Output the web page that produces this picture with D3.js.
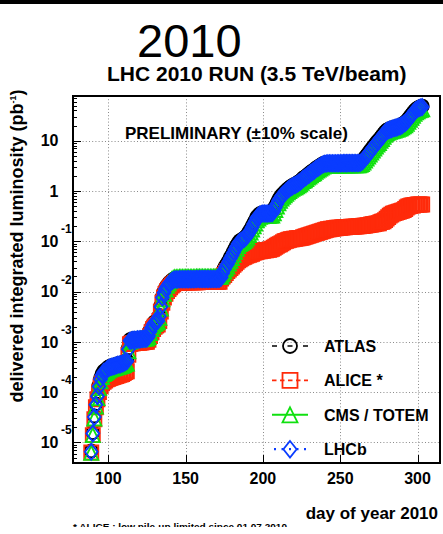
<!DOCTYPE html>
<html>
<head>
<meta charset="utf-8">
<script src="https://cdn.jsdelivr.net/npm/d3@7"></script>
<style>
  html, body { margin: 0; padding: 0; background: #fff; }
  svg { display: block; }
  text { font-family: "Liberation Sans", Arial, Helvetica, sans-serif; }
</style>
</head>
<body>
<svg id="chart" width="443" height="534"></svg>
<script>
// ---- data: delivered integrated luminosity (pb^-1), one value per day of year 2010 (89 .. 303) ----
const days = d3.range(89, 304);

const atlas = [
  6.8e-6, 1.57e-5, 3.35e-5, 5.85e-5, 8.7e-5, 1.36e-4, 1.88e-4, 2.3e-4, 2.6e-4, 2.72e-4,
  2.92e-4, 3.13e-4, 3.23e-4, 3.33e-4, 3.38e-4, 3.44e-4, 3.54e-4, 3.64e-4, 3.7e-4, 3.75e-4,
  3.85e-4, 3.96e-4, 4.17e-4, 4.27e-4, 7.5e-4, 1.1e-3, 1.12e-3, 1.15e-3, 1.15e-3, 1.15e-3,
  1.17e-3, 1.17e-3, 1.18e-3, 1.19e-3, 1.2e-3, 1.2e-3, 1.22e-3, 1.36e-3, 1.68e-3, 2.0e-3,
  2.3e-3, 2.5e-3, 2.6e-3, 2.72e-3, 3.35e-3, 5.2e-3, 7.9e-3, 9.9e-3, 1.17e-2, 1.31e-2,
  1.44e-2, 1.56e-2, 1.66e-2, 1.76e-2, 1.8e-2, 1.8e-2, 1.8e-2, 1.81e-2, 1.81e-2, 1.81e-2,
  1.81e-2, 1.81e-2, 1.82e-2, 1.82e-2, 1.82e-2, 1.82e-2, 1.82e-2, 1.82e-2, 1.83e-2, 1.83e-2,
  1.83e-2, 1.83e-2, 1.83e-2, 1.83e-2, 1.83e-2, 1.84e-2, 1.84e-2, 1.84e-2, 1.84e-2, 1.84e-2,
  1.84e-2, 1.84e-2, 1.84e-2, 1.85e-2, 1.97e-2, 2.4e-2, 2.86e-2, 3.29e-2, 3.64e-2, 4.16e-2,
  4.8e-2, 5.4e-2, 6.25e-2, 7.2e-2, 8.2e-2, 9.25e-2, 0.102, 0.106, 0.111, 0.117,
  0.125, 0.137, 0.154, 0.173, 0.198, 0.229, 0.26, 0.302, 0.329, 0.354,
  0.361, 0.369, 0.369, 0.37, 0.371, 0.372, 0.374, 0.374, 0.416, 0.49,
  0.572, 0.655, 0.74, 0.82, 0.885, 0.95, 1.02, 1.09, 1.165, 1.22,
  1.28, 1.34, 1.37, 1.44, 1.51, 1.57, 1.68, 1.81, 1.89, 1.99,
  2.12, 2.23, 2.38, 2.50, 2.61, 2.80, 2.93, 3.07, 3.21, 3.37,
  3.53, 3.61, 3.66, 3.69, 3.69, 3.69, 3.70, 3.70, 3.70, 3.71,
  3.71, 3.71, 3.71, 3.72, 3.72, 3.72, 3.72, 3.73, 3.73, 3.73,
  3.73, 3.74, 3.74, 3.74, 3.78, 3.95, 4.23, 4.65, 5.10, 5.58,
  6.13, 6.72, 7.36, 8.07, 8.85, 9.70, 10.4, 11.4, 12.5, 13.7,
  15.1, 16.1, 16.8, 17.3, 17.7, 18.1, 18.5, 18.9, 19.3, 19.9,
  20.3, 21.2, 22.3, 23.3, 25.0, 27.4, 30.0, 32.9, 36.1, 39.5,
  42.3, 44.4, 46.5, 47.5, 48.7
];

const alice = [
  6.3e-6, 1.4e-5, 2.9e-5, 5.0e-5, 7.2e-5, 1.0e-4, 1.3e-4, 1.5e-4, 1.6e-4, 1.7e-4,
  1.8e-4, 1.85e-4, 1.9e-4, 1.95e-4, 2.0e-4, 2.05e-4, 2.1e-4, 2.15e-4, 2.2e-4, 2.25e-4,
  2.3e-4, 2.4e-4, 2.5e-4, 2.6e-4, 5.5e-4, 9.0e-4, 9.3e-4, 9.4e-4, 9.5e-4, 9.5e-4,
  9.6e-4, 9.6e-4, 9.7e-4, 9.8e-4, 9.9e-4, 1.0e-3, 1.0e-3, 1.1e-3, 1.3e-3, 1.55e-3,
  1.8e-3, 2.0e-3, 2.1e-3, 2.2e-3, 2.6e-3, 4.0e-3, 6.0e-3, 7.6e-3, 9.0e-3, 1.02e-2,
  1.12e-2, 1.22e-2, 1.32e-2, 1.4e-2, 1.5e-2, 1.5e-2, 1.5e-2, 1.51e-2, 1.51e-2, 1.51e-2,
  1.51e-2, 1.52e-2, 1.52e-2, 1.52e-2, 1.52e-2, 1.53e-2, 1.53e-2, 1.53e-2, 1.53e-2, 1.53e-2,
  1.54e-2, 1.54e-2, 1.54e-2, 1.54e-2, 1.54e-2, 1.55e-2, 1.55e-2, 1.55e-2, 1.55e-2, 1.55e-2,
  1.55e-2, 1.56e-2, 1.56e-2, 1.56e-2, 1.82e-2, 2.0e-2, 2.14e-2, 2.34e-2, 2.57e-2, 2.75e-2,
  2.95e-2, 3.16e-2, 3.39e-2, 3.63e-2, 3.89e-2, 4.17e-2, 4.37e-2, 4.57e-2, 4.79e-2, 4.9e-2,
  5.13e-2, 5.25e-2, 5.37e-2, 5.5e-2, 5.62e-2, 5.89e-2, 6.03e-2, 6.17e-2, 6.31e-2, 6.31e-2,
  6.46e-2, 6.46e-2, 6.61e-2, 6.61e-2, 6.76e-2, 6.76e-2, 6.92e-2, 7.08e-2, 7.41e-2, 7.76e-2,
  8.13e-2, 8.51e-2, 8.71e-2, 9.12e-2, 9.55e-2, 0.100, 0.102, 0.105, 0.107, 0.110,
  0.110, 0.112, 0.112, 0.115, 0.115, 0.117, 0.117, 0.120, 0.123, 0.126,
  0.129, 0.132, 0.135, 0.138, 0.141, 0.145, 0.148, 0.151, 0.155, 0.158,
  0.162, 0.166, 0.170, 0.174, 0.174, 0.178, 0.178, 0.182, 0.182, 0.186,
  0.186, 0.186, 0.188, 0.190, 0.190, 0.191, 0.192, 0.193, 0.194, 0.195,
  0.196, 0.197, 0.198, 0.199, 0.200, 0.201, 0.203, 0.205, 0.207, 0.209,
  0.212, 0.215, 0.218, 0.221, 0.224, 0.227, 0.229, 0.240, 0.245, 0.251,
  0.263, 0.282, 0.302, 0.324, 0.339, 0.355, 0.363, 0.372, 0.380, 0.389,
  0.398, 0.407, 0.417, 0.437, 0.468, 0.490, 0.501, 0.513, 0.513, 0.525,
  0.525, 0.537, 0.537, 0.537, 0.537
];

const cms = [
  6.2e-6, 1.4e-5, 3.0e-5, 5.2e-5, 7.6e-5, 1.2e-4, 1.65e-4, 2.0e-4, 2.3e-4, 2.4e-4,
  2.55e-4, 2.7e-4, 2.8e-4, 2.9e-4, 2.95e-4, 3.0e-4, 3.1e-4, 3.15e-4, 3.2e-4, 3.3e-4,
  3.35e-4, 3.45e-4, 3.6e-4, 3.7e-4, 6.5e-4, 1.0e-3, 1.05e-3, 1.1e-3, 1.1e-3, 1.11e-3,
  1.12e-3, 1.12e-3, 1.13e-3, 1.14e-3, 1.15e-3, 1.16e-3, 1.18e-3, 1.25e-3, 1.5e-3, 1.8e-3,
  2.05e-3, 2.25e-3, 2.4e-3, 2.5e-3, 3.0e-3, 4.6e-3, 7.0e-3, 9.0e-3, 1.1e-2, 1.3e-2,
  1.45e-2, 1.6e-2, 1.75e-2, 1.85e-2, 1.92e-2, 1.92e-2, 1.92e-2, 1.93e-2, 1.93e-2, 1.93e-2,
  1.93e-2, 1.93e-2, 1.94e-2, 1.94e-2, 1.94e-2, 1.94e-2, 1.94e-2, 1.94e-2, 1.95e-2, 1.95e-2,
  1.95e-2, 1.95e-2, 1.95e-2, 1.95e-2, 1.95e-2, 1.96e-2, 1.96e-2, 1.96e-2, 1.96e-2, 1.96e-2,
  1.96e-2, 1.96e-2, 1.96e-2, 1.97e-2, 2.0e-2, 2.2e-2, 2.5e-2, 2.85e-2, 3.15e-2, 3.6e-2,
  4.1e-2, 4.65e-2, 5.4e-2, 6.2e-2, 7.1e-2, 8.0e-2, 8.8e-2, 9.2e-2, 9.6e-2, 0.101,
  0.108, 0.119, 0.133, 0.149, 0.171, 0.198, 0.225, 0.261, 0.284, 0.306,
  0.312, 0.32, 0.32, 0.32, 0.321, 0.322, 0.324, 0.324, 0.36, 0.42,
  0.49, 0.57, 0.64, 0.71, 0.77, 0.82, 0.88, 0.945, 1.00, 1.05,
  1.10, 1.16, 1.19, 1.24, 1.30, 1.36, 1.46, 1.57, 1.64, 1.72,
  1.84, 1.93, 2.06, 2.16, 2.26, 2.42, 2.54, 2.66, 2.78, 2.92,
  3.05, 3.12, 3.17, 3.20, 3.20, 3.21, 3.21, 3.21, 3.22, 3.22,
  3.22, 3.23, 3.23, 3.23, 3.24, 3.24, 3.24, 3.25, 3.25, 3.25,
  3.25, 3.26, 3.26, 3.26, 3.30, 3.42, 3.66, 4.02, 4.41, 4.83,
  5.30, 5.81, 6.37, 6.98, 7.66, 8.40, 9.00, 9.90, 10.8, 11.9,
  13.1, 14.0, 14.6, 15.0, 15.3, 15.7, 16.0, 16.4, 16.7, 17.2,
  17.6, 18.4, 19.3, 20.2, 21.6, 23.7, 25.9, 28.4, 31.2, 34.2,
  36.6, 38.4, 40.2, 41.1, 42.1
];

const lhcb = [
  6.5e-6, 1.5e-5, 3.2e-5, 5.6e-5, 8.3e-5, 1.3e-4, 1.8e-4, 2.2e-4, 2.5e-4, 2.6e-4,
  2.8e-4, 3.0e-4, 3.1e-4, 3.2e-4, 3.24e-4, 3.3e-4, 3.4e-4, 3.5e-4, 3.55e-4, 3.6e-4,
  3.7e-4, 3.8e-4, 4.0e-4, 4.1e-4, 7.1e-4, 1.05e-3, 1.07e-3, 1.1e-3, 1.1e-3, 1.1e-3,
  1.12e-3, 1.12e-3, 1.13e-3, 1.14e-3, 1.15e-3, 1.15e-3, 1.17e-3, 1.3e-3, 1.6e-3, 1.9e-3,
  2.2e-3, 2.4e-3, 2.5e-3, 2.6e-3, 3.2e-3, 5.0e-3, 7.6e-3, 9.5e-3, 1.12e-2, 1.26e-2,
  1.38e-2, 1.5e-2, 1.6e-2, 1.7e-2, 1.74e-2, 1.74e-2, 1.74e-2, 1.75e-2, 1.75e-2, 1.75e-2,
  1.75e-2, 1.75e-2, 1.76e-2, 1.76e-2, 1.76e-2, 1.76e-2, 1.76e-2, 1.76e-2, 1.77e-2, 1.77e-2,
  1.77e-2, 1.77e-2, 1.77e-2, 1.77e-2, 1.77e-2, 1.78e-2, 1.78e-2, 1.78e-2, 1.78e-2, 1.78e-2,
  1.78e-2, 1.78e-2, 1.78e-2, 1.79e-2, 1.9e-2, 2.3e-2, 2.75e-2, 3.16e-2, 3.5e-2, 4.0e-2,
  4.6e-2, 5.2e-2, 6.0e-2, 6.9e-2, 7.9e-2, 8.9e-2, 9.8e-2, 0.102, 0.107, 0.112,
  0.12, 0.132, 0.148, 0.166, 0.19, 0.22, 0.25, 0.29, 0.316, 0.34,
  0.347, 0.355, 0.355, 0.356, 0.357, 0.358, 0.36, 0.36, 0.40, 0.47,
  0.55, 0.63, 0.71, 0.79, 0.85, 0.91, 0.98, 1.05, 1.12, 1.17,
  1.23, 1.29, 1.32, 1.38, 1.45, 1.51, 1.62, 1.74, 1.82, 1.91,
  2.04, 2.14, 2.29, 2.40, 2.51, 2.69, 2.82, 2.95, 3.09, 3.24,
  3.39, 3.47, 3.52, 3.55, 3.55, 3.55, 3.56, 3.56, 3.56, 3.57,
  3.57, 3.57, 3.57, 3.58, 3.58, 3.58, 3.58, 3.59, 3.59, 3.59,
  3.59, 3.6, 3.6, 3.6, 3.63, 3.8, 4.07, 4.47, 4.9, 5.37,
  5.89, 6.46, 7.08, 7.76, 8.51, 9.33, 10.0, 11.0, 12.0, 13.2,
  14.5, 15.5, 16.2, 16.6, 17.0, 17.4, 17.8, 18.2, 18.6, 19.1,
  19.5, 20.4, 21.4, 22.4, 24.0, 26.3, 28.8, 31.6, 34.7, 38.0,
  40.7, 42.7, 44.7, 45.7, 46.8
];

// axis ticks
const xTicks = [100, 150, 200, 250, 300];
const yExponents = [-5, -4, -3, -2, -1, 0, 1];

// ---- layout ----
const svg = d3.select("#chart");
const plot = { left: 73, top: 96, right: 440, bottom: 463 };

const x = d3.scaleLinear().domain([77.2, 314.5]).range([plot.left, plot.right]);
const y = d3.scaleLog().domain([3.9e-6, 77.4]).range([plot.bottom, plot.top]);

const crisp = v => Math.round(v) + 0.5;

// thin black band along the top edge
svg.append("rect").attr("x", 0).attr("y", 0).attr("width", 443).attr("height", 4).attr("fill", "#000");

// titles
svg.append("text").attr("x", 137).attr("y", 57).attr("font-size", 47).text("2010");
svg.append("text").attr("x", 107).attr("y", 80.5).attr("font-size", 21).attr("font-weight", "bold")
  .text("LHC 2010 RUN (3.5 TeV/beam)");

// dotted grid
const grid = svg.append("g").attr("stroke", "#8a8a8a").attr("stroke-width", 1).attr("stroke-dasharray", "1,2.2");
grid.selectAll("line.gx").data(xTicks).join("line").attr("class", "gx")
  .attr("x1", d => crisp(x(d))).attr("x2", d => crisp(x(d)))
  .attr("y1", plot.top).attr("y2", plot.bottom);
grid.selectAll("line.gy").data(yExponents).join("line").attr("class", "gy")
  .attr("y1", d => crisp(y(Math.pow(10, d)))).attr("y2", d => crisp(y(Math.pow(10, d))))
  .attr("x1", plot.left).attr("x2", plot.right);

// text annotation
svg.append("text").attr("x", 125).attr("y", 139).attr("font-size", 17).attr("font-weight", "bold")
  .text("PRELIMINARY (\u00b110% scale)");

// open marker shapes
function markerPath(shape, s) {
  const h = s / 2;
  const p = d3.path();
  if (shape === "circle") {
    p.moveTo(h, 0); p.arc(0, 0, h, 0, 2 * Math.PI);
  } else if (shape === "square") {
    p.rect(-h, -h, s, s);
  } else if (shape === "triangle") {
    p.moveTo(0, -h); p.lineTo(h, h); p.lineTo(-h, h); p.closePath();
  } else if (shape === "diamond") {
    p.moveTo(0, -h); p.lineTo(0.4 * s, 0); p.lineTo(0, h); p.lineTo(-0.4 * s, 0); p.closePath();
  }
  return p.toString();
}

const series = [
  { name: "ATLAS",       values: atlas, color: "#000000", shape: "circle",   size: 13,  legendSize: 14,   dash: "5,10.5", legendWidth: 1.6 },
  { name: "ALICE *",     values: alice, color: "#ff2a0a", shape: "square",   size: 14,  legendSize: 15,   dash: "4.5,3.5", legendWidth: 1.6 },
  { name: "CMS / TOTEM", values: cms,   color: "#10e010", shape: "triangle", size: 14,  legendSize: 15,   dash: null,     legendWidth: 2 },
  { name: "LHCb",        values: lhcb,  color: "#0a3cff", shape: "diamond",  size: 16,  legendSize: 16.5, dash: "2,5.5",  legendWidth: 2.2 }
];

svg.append("clipPath").attr("id", "plotClip").append("rect")
  .attr("x", plot.left).attr("y", plot.top)
  .attr("width", plot.right - plot.left).attr("height", plot.bottom - plot.top);

const marks = svg.append("g").attr("clip-path", "url(#plotClip)");
series.forEach(s => {
  marks.append("g")
    .attr("fill", "none").attr("stroke", s.color).attr("stroke-width", 1.9)
    .selectAll("path")
    .data(days.map((d, i) => [d, s.values[i]]))
    .join("path")
    .attr("d", markerPath(s.shape, s.size))
    .attr("transform", d => `translate(${x(d[0])},${y(d[1])})`);
});

// frame
svg.append("rect")
  .attr("x", plot.left).attr("y", plot.top)
  .attr("width", plot.right - plot.left).attr("height", plot.bottom - plot.top)
  .attr("fill", "none").attr("stroke", "#000").attr("stroke-width", 2);

// ticks on the left axis (decades and log minors), drawn inward
const minorVals = [];
yExponents.concat([-6]).forEach(e => {
  for (let m = 2; m <= 9; m++) {
    const v = m * Math.pow(10, e);
    if (v > y.domain()[0] && v < y.domain()[1]) minorVals.push(v);
  }
});
const ticks = svg.append("g").attr("stroke", "#000").attr("stroke-width", 1);
ticks.selectAll("line.ymin").data(minorVals).join("line").attr("class", "ymin")
  .attr("x1", plot.left).attr("x2", plot.left + 4)
  .attr("y1", d => crisp(y(d))).attr("y2", d => crisp(y(d)));
ticks.selectAll("line.ymaj").data(yExponents).join("line").attr("class", "ymaj")
  .attr("x1", plot.left).attr("x2", plot.left + 8)
  .attr("y1", d => crisp(y(Math.pow(10, d)))).attr("y2", d => crisp(y(Math.pow(10, d))));
ticks.selectAll("line.xmaj").data(xTicks).join("line").attr("class", "xmaj")
  .attr("x1", d => crisp(x(d))).attr("x2", d => crisp(x(d)))
  .attr("y1", plot.bottom).attr("y2", plot.bottom - 8);

// x tick labels
svg.append("g").selectAll("text").data(xTicks).join("text")
  .attr("x", d => x(d)).attr("y", 483.5)
  .attr("text-anchor", "middle").attr("font-size", 16).attr("font-weight", "bold")
  .text(d => d);

// y tick labels: 10 with exponent
const yl = svg.append("g").attr("font-weight", "bold");
yExponents.forEach(e => {
  const yy = y(Math.pow(10, e));
  yl.append("text").attr("x", 58.5).attr("y", yy + 5.8)
    .attr("text-anchor", "end").attr("font-size", 16)
    .text(e === 0 ? "1" : "10");
  if (e !== 0 && e !== 1) {
    yl.append("text").attr("x", 61).attr("y", yy - 8)
      .attr("font-size", 12).text(String(e));
  }
});

// axis titles
const yTitle = svg.append("text")
  .attr("transform", "translate(23,246) rotate(-90)")
  .attr("text-anchor", "middle").attr("font-size", 18).attr("font-weight", "bold");
yTitle.append("tspan").text("delivered integrated luminosity (pb");
yTitle.append("tspan").attr("font-size", 9).attr("dy", -7).text("-1");
yTitle.append("tspan").attr("dy", 7).text(")");

svg.append("text").attr("x", 438).attr("y", 519).attr("text-anchor", "end")
  .attr("font-size", 17).attr("font-weight", "bold").text("day of year 2010");

// footnote, cut at the lower border of the page
svg.append("clipPath").attr("id", "noteClip").append("rect")
  .attr("x", 0).attr("y", 500).attr("width", 443).attr("height", 27);
svg.append("text").attr("clip-path", "url(#noteClip)")
  .attr("x", 73).attr("y", 530).attr("font-size", 9.5).attr("font-weight", "bold")
  .attr("textLength", 214).attr("lengthAdjust", "spacingAndGlyphs")
  .text("* ALICE : low pile-up limited since 01.07.2010");

// legend
const legend = svg.append("g");
series.forEach((s, i) => {
  const cy = 346 + i * 34.4;
  const row = legend.append("g");
  row.append("line")
    .attr("x1", 272).attr("x2", 308).attr("y1", cy).attr("y2", cy)
    .attr("stroke", s.color).attr("stroke-width", s.legendWidth)
    .attr("stroke-dasharray", s.dash)
    .attr("stroke-dashoffset", s.shape === "diamond" ? 5.5 : 0);
  row.append("path")
    .attr("d", markerPath(s.shape, s.legendSize))
    .attr("transform", `translate(290,${cy})`)
    .attr("fill", "none").attr("stroke", s.color).attr("stroke-width", 1.8);
  row.append("text").attr("x", 324).attr("y", cy + 6)
    .attr("font-size", 16).attr("font-weight", "bold").text(s.name);
});
</script>
</body>
</html>
